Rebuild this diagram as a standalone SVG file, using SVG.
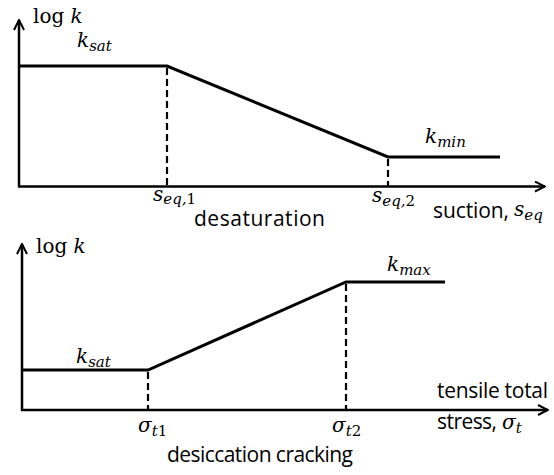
<svg xmlns="http://www.w3.org/2000/svg" width="554" height="475" viewBox="0 0 554 475">
<style>
.ax{stroke:#000;stroke-width:2.5;fill:none}
.cv{stroke:#000;stroke-width:3;fill:none;stroke-linejoin:miter}
.ds{stroke:#000;stroke-width:2.2;stroke-dasharray:7,4;fill:none}
.m{font-family:"DejaVu Serif","Liberation Serif",serif;font-style:italic;font-size:20px;fill:#000}
.mu{font-style:normal}
.sub{font-size:15px}
.t{font-family:"Open Sans","Liberation Sans",sans-serif;font-size:21px;fill:#000}
</style>
<defs>
<marker id="ah" viewBox="0 0 12 12" refX="11" refY="6" markerWidth="12" markerHeight="12" markerUnits="userSpaceOnUse" orient="auto">
<path d="M1,1 L11,6 L1,11" fill="none" stroke="#000" stroke-width="2"/>
</marker>
</defs>
<g id="connectors">
<line class="ax" x1="19" y1="187" x2="19" y2="20" marker-end="url(#ah)"/>
<line class="ax" x1="18" y1="186.5" x2="545" y2="186.5" marker-end="url(#ah)"/>
<polyline class="cv" points="19,66 167,66 388,157 500,157"/>
<line class="ds" x1="167" y1="68" x2="167" y2="186"/>
<line class="ds" x1="388" y1="159" x2="388" y2="186"/>
<line class="ax" x1="22" y1="411" x2="22" y2="244" marker-end="url(#ah)"/>
<line class="ax" x1="21" y1="410" x2="548" y2="410" marker-end="url(#ah)"/>
<polyline class="cv" points="22,370 148,370 346,282 445,282"/>
<line class="ds" x1="148" y1="372" x2="148" y2="410"/>
<line class="ds" x1="346" y1="284" x2="346" y2="410"/>
</g>
<g id="top-labels">
<text class="m" x="33" y="23"><tspan class="mu">log</tspan> k</text>
<text class="m" x="77" y="47">k<tspan class="sub" dy="4">sat</tspan></text>
<text class="m" x="425" y="143">k<tspan class="sub" dy="4">min</tspan></text>
<text class="m" x="153" y="201">s<tspan class="sub" dy="3">eq,<tspan class="mu">1</tspan></tspan></text>
<text class="m" x="372" y="202">s<tspan class="sub" dy="4">eq,<tspan class="mu">2</tspan></tspan></text>
<text class="t" x="194" y="226" textLength="131">desaturation</text>
<text class="t" x="433" y="218" textLength="76">suction,</text>
<text class="m" x="514" y="216">s<tspan class="sub" dy="4">eq</tspan></text>
</g>
<g id="bottom-labels">
<text class="m" x="36" y="253"><tspan class="mu">log</tspan> k</text>
<text class="m" x="76" y="363">k<tspan class="sub" dy="4">sat</tspan></text>
<text class="m" x="387" y="271">k<tspan class="sub" dy="4">max</tspan></text>
<text class="m" x="138" y="432">σ<tspan class="sub" dy="4">t<tspan class="mu">1</tspan></tspan></text>
<text class="m" x="332" y="432">σ<tspan class="sub" dy="4">t<tspan class="mu">2</tspan></tspan></text>
<text class="t" x="437" y="398" textLength="111">tensile total</text>
<text class="t" x="437" y="429" textLength="60">stress,</text>
<text class="m" x="502" y="429">σ<tspan class="sub" dy="4">t</tspan></text>
<text class="t" x="167" y="462" textLength="186">desiccation cracking</text>
</g>
</svg>
